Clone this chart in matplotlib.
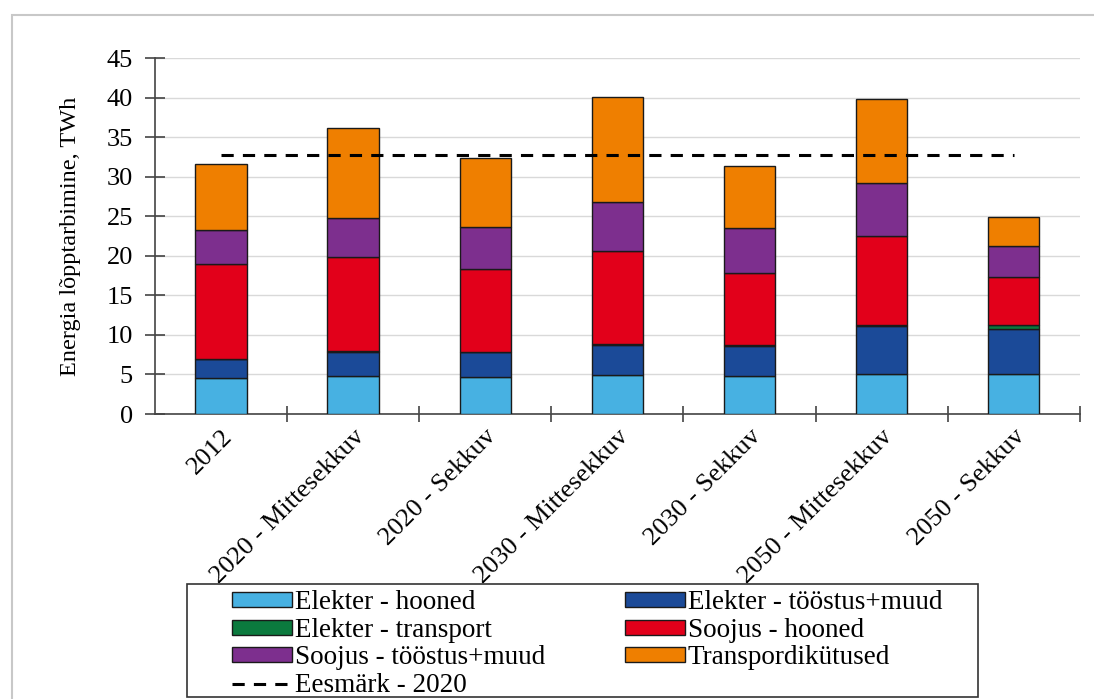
import matplotlib.pyplot as plt
from matplotlib.patches import Rectangle
import numpy as np

plt.rcParams['font.family'] = ['Liberation Serif', 'DejaVu Serif']

categories = ["2012", "2020 - Mittesekkuv", "2020 - Sekkuv", "2030 - Mittesekkuv",
              "2030 - Sekkuv", "2050 - Mittesekkuv", "2050 - Sekkuv"]

elekter_hooned = [4.55, 4.85, 4.7, 4.95, 4.85, 5.05, 5.05]
elekter_toostus = [2.35, 3.05, 3.15, 3.8, 3.75, 6.05, 5.75]
elekter_transport = [0.05, 0.05, 0.05, 0.05, 0.1, 0.15, 0.5]
soojus_hooned = [12.05, 11.85, 10.4, 11.8, 9.1, 11.25, 6.0]
soojus_toostus = [4.3, 5.0, 5.4, 6.2, 5.7, 6.7, 4.0]
transpordikytused = [8.3, 11.3, 8.6, 13.3, 7.8, 10.6, 3.6]
eesmark_2020 = 32.8

series = [
    ("Elekter - hooned", elekter_hooned, "#47b1e2"),
    ("Elekter - tööstus+muud", elekter_toostus, "#1b4a98"),
    ("Elekter - transport", elekter_transport, "#0b7a3e"),
    ("Soojus - hooned", soojus_hooned, "#e2001a"),
    ("Soojus - tööstus+muud", soojus_toostus, "#7d2f8e"),
    ("Transpordikütused", transpordikytused, "#ef7f00"),
]

fig = plt.figure(figsize=(10.94, 6.99), dpi=100)
ax = fig.add_axes([0.1417, 0.4077, 0.8453, 0.5093])

x = np.arange(len(categories))
bottom = np.zeros(len(categories))
handles = {}
for name, vals, color in series:
    bars = ax.bar(x, vals, 0.39, bottom=bottom, color=color, edgecolor="#1a1a1a",
                  linewidth=1.0, label=name, zorder=3)
    handles[name] = bars
    bottom += np.array(vals)

line, = ax.plot([x[0], x[-1]], [eesmark_2020, eesmark_2020], color="black",
                linestyle=(0, (4, 3)), linewidth=2.2, label="Eesmärk - 2020", zorder=4)

ax.set_xlim(-0.5, len(categories) - 0.5)
ax.set_ylim(0, 45)
ax.set_yticks(np.arange(0, 46, 5))
ax.yaxis.grid(True, color="#d9d9d9", linewidth=1.0, zorder=0)
ax.set_axisbelow(True)

ax.set_xticks(x)
ax.set_xticklabels(categories, rotation=45, ha="right", rotation_mode="anchor", fontsize=19)
ax.set_xticks(np.arange(0.5, len(categories), 1.0), minor=True)
ax.tick_params(axis="x", which="major", length=0, pad=8)
ax.tick_params(axis="x", which="minor", direction="inout", length=12, width=1.2, color="#444444")
ax.tick_params(axis="y", direction="inout", length=14, width=1.2, color="#444444", labelsize=19, pad=9)

for side in ["top", "right"]:
    ax.spines[side].set_visible(False)
for side in ["left", "bottom"]:
    ax.spines[side].set_color("#444444")
    ax.spines[side].set_linewidth(1.2)

ax.set_ylabel("Energia lõpptarbimine, TWh", fontsize=17.5, labelpad=18)

# legend laid out row by row as in the original (matplotlib fills column-first)
order_names = ["Elekter - hooned", "Elekter - transport", "Soojus - tööstus+muud", None,
               "Elekter - tööstus+muud", "Soojus - hooned", "Transpordikütused"]
leg_handles = []
leg_labels = []
for n in order_names:
    if n is None:
        leg_handles.append(line)
        leg_labels.append("Eesmärk - 2020")
    else:
        leg_handles.append(handles[n])
        leg_labels.append(n)

leg = fig.legend(leg_handles, leg_labels, ncol=2, loc="upper left",
                 bbox_to_anchor=(232 / 1094, 1 - 590 / 699),
                 fontsize=19.5, frameon=False,
                 handlelength=2.2, handleheight=0.48, handletextpad=0.12,
                 labelspacing=0.1, borderpad=0.0, borderaxespad=0.0, columnspacing=2.95)

# legend frame drawn separately, wider than its contents as in the original
fig.patches.append(Rectangle((187 / 1094, 1 - 697 / 699), (978 - 187) / 1094, (697 - 584) / 699,
                             transform=fig.transFigure, fill=False,
                             edgecolor="#333333", linewidth=1.2))

# outer light border of the original picture
fig.patches.append(Rectangle((12 / 1094, -0.01), 1.1, (699 - 15) / 699 + 0.01,
                             transform=fig.transFigure, fill=False,
                             edgecolor="#c8c8c8", linewidth=1.5))

fig.savefig("out.png", dpi=100)
